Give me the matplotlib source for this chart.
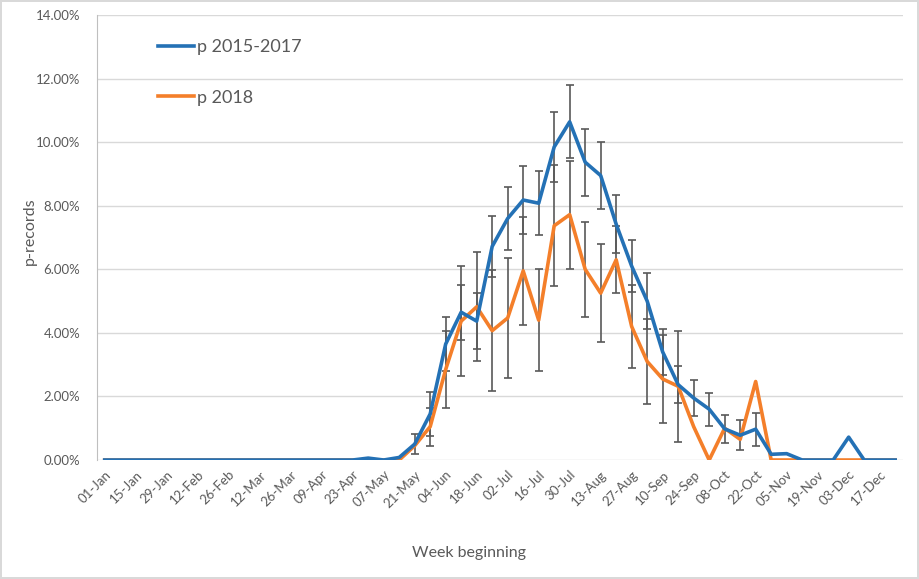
import numpy as np
import matplotlib
matplotlib.use("Agg")
import matplotlib.pyplot as plt
from matplotlib.ticker import FuncFormatter

plt.rcParams['font.family'] = ['Lato', 'DejaVu Sans']

# week labels (every second week is shown on the axis)
weeks = ["01-Jan", "08-Jan", "15-Jan", "22-Jan", "29-Jan", "05-Feb", "12-Feb", "19-Feb",
         "26-Feb", "05-Mar", "12-Mar", "19-Mar", "26-Mar", "02-Apr", "09-Apr", "16-Apr",
         "23-Apr", "30-Apr", "07-May", "14-May", "21-May", "28-May", "04-Jun", "11-Jun",
         "18-Jun", "25-Jun", "02-Jul", "09-Jul", "16-Jul", "23-Jul", "30-Jul", "06-Aug",
         "13-Aug", "20-Aug", "27-Aug", "03-Sep", "10-Sep", "17-Sep", "24-Sep", "01-Oct",
         "08-Oct", "15-Oct", "22-Oct", "29-Oct", "05-Nov", "12-Nov", "19-Nov", "26-Nov",
         "03-Dec", "10-Dec", "17-Dec", "24-Dec"]

# p-records in percent
p_1517 = [0]*17 + [0.06, 0.0, 0.08, 0.5, 1.45, 3.65, 4.65, 4.37, 6.72, 7.6, 8.18, 8.08,
                   9.85, 10.64, 9.37, 8.95, 7.42, 6.1, 5.0, 3.4, 2.37, 1.95, 1.6, 0.98,
                   0.78, 0.97, 0.18, 0.2, 0, 0, 0, 0.72, 0, 0, 0]
p_2018 = [0]*20 + [0.45, 1.05, 2.85, 4.37, 4.82, 4.07, 4.47, 5.95, 4.4, 7.37, 7.72,
                   6.0, 5.25, 6.3, 4.2, 3.1, 2.55, 2.32, 1.05, 0.0, 1.0, 0.65, 2.47,
                   0, 0, 0, 0, 0, 0, 0, 0, 0]

# error bar half-widths (percent)
err_1517 = [0]*20 + [0.32, 0.7, 0.85, 0.87, 0.88, 0.95, 1.0, 1.08, 1.0, 1.1, 1.15,
                     1.05, 1.05, 0.92, 0.82, 0.88, 0.71, 0.58, 0.58, 0.52, 0.45, 0.47,
                     0.52] + [0]*9
err_2018 = [0]*21 + [0.6, 1.2, 1.73, 1.72, 1.9, 1.9, 1.7, 1.6, 1.9, 1.7, 1.5, 1.55,
                     1.05, 1.3, 1.33, 1.37, 1.75] + [0]*14

blue = "#2471b5"
orange = "#f47f2a"
grey = "#595959"

fig = plt.figure(figsize=(9.19, 5.79), dpi=100)
fig.patch.set_edgecolor("#d9d9d9")
fig.patch.set_linewidth(1.5)
ax = fig.add_axes([0.1055, 0.2055, 0.877, 0.7685])

x = np.arange(len(weeks))
b = np.array(p_1517)
o = np.array(p_2018)
eb = np.array(err_1517)
eo = np.array(err_2018)

m = eb > 0
ax.errorbar(x[m], b[m], yerr=eb[m], fmt="none", ecolor=grey, elinewidth=1.2,
            capsize=3, capthick=1.2, zorder=2)
m = eo > 0
ax.errorbar(x[m], o[m], yerr=eo[m], fmt="none", ecolor=grey, elinewidth=1.2,
            capsize=3, capthick=1.2, zorder=2)

ax.plot(x, b, color=blue, lw=2.6, label="p 2015-2017", zorder=4, solid_joinstyle="round")
ax.plot(x, o, color=orange, lw=2.6, label="p 2018", zorder=3, solid_joinstyle="round")

ax.set_xlim(-0.5, len(weeks) - 0.5)
ax.set_ylim(0, 14)
ax.set_yticks(np.arange(0, 14.1, 2))
ax.yaxis.set_major_formatter(FuncFormatter(lambda v, p: "%.2f%%" % v))
ax.set_xticks(x[::2])
ax.set_xticklabels(weeks[::2], rotation=45, ha="right", rotation_mode="anchor")
ax.tick_params(length=0, colors=grey, labelsize=9.5)
ax.tick_params(axis="x", pad=6)
ax.tick_params(axis="y", pad=12)

ax.grid(axis="y", color="#d9d9d9", lw=1)
ax.set_axisbelow(True)
for s in ["top", "right", "bottom"]:
    ax.spines[s].set_visible(False)
ax.spines["left"].set_color("#bfbfbf")

fig.text(0.032, 0.6, "p-records", rotation=90, ha="center", va="center",
         color=grey, fontsize=11.5)
fig.text(0.51, 0.045, "Week beginning", ha="center", va="center",
         color=grey, fontsize=11.5)

leg = ax.legend(loc="upper left", bbox_to_anchor=(0.056, 0.982), frameon=False,
                labelspacing=1.9, handlelength=2.0, handletextpad=0.15, fontsize=13)
for t in leg.get_texts():
    t.set_color(grey)

fig.savefig("out.png", dpi=100)
